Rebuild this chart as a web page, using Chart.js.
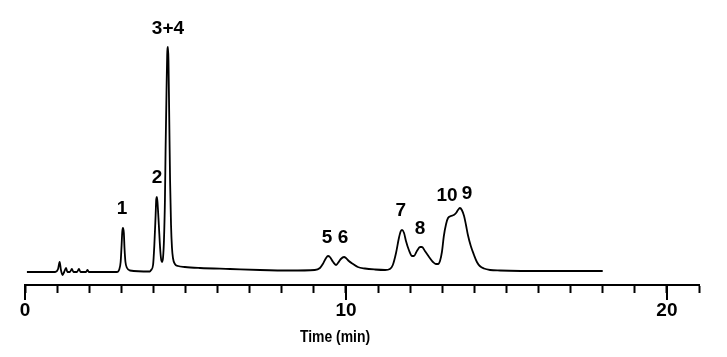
<!DOCTYPE html>
<html><head><meta charset="utf-8">
<script src="https://cdn.jsdelivr.net/npm/chart.js@4/dist/chart.umd.min.js"></script>
<style>html,body{margin:0;padding:0;background:#fff;}#wrap{width:727px;height:357px;}</style>
</head><body><div id="wrap"><canvas id="c" width="727" height="357"></canvas></div>
<script>
// Retention time (min) and detector signal (arbitrary units)
const timeMin = [0.06,0.94,1.03,1.08,1.12,1.17,1.22,1.28,1.32,1.40,1.46,1.51,1.62,1.68,1.73,1.90,1.95,1.99,2.34,
  2.87,2.93,2.98,3.01,3.03,3.05,3.08,3.10,3.13,3.18,3.27,
  3.89,3.93,3.99,4.03,4.07,4.09,4.11,4.13,4.17,4.21,4.24,4.27,4.30,4.33,4.36,4.38,4.41,4.43,4.455,4.47,4.495,4.52,4.55,4.58,4.61,4.67,4.77,4.98,
  5.45,6.39,7.32,8.26,9.03,9.19,9.28,9.38,9.44,9.50,9.60,9.69,9.75,9.84,9.94,10.00,10.09,10.22,10.37,10.59,10.90,
  11.22,11.37,11.46,11.56,11.65,11.71,11.75,11.81,11.87,11.96,12.06,12.12,12.21,12.31,12.37,12.46,12.59,12.71,12.80,12.87,
  12.93,12.99,13.05,13.12,13.18,13.27,13.36,13.43,13.49,13.55,13.61,13.68,13.74,13.80,13.89,13.99,14.08,14.17,14.30,14.49,14.80,16.36,18.0];
const signal = [0,0,3,10,2,-3,0,4,0,0,3,0,0,3,0,0,2,0,0,
  0,2,10,27,40,44,39,24,10,4,1.5,
  0.5,2,7,27,57,73,75,69,47,24,13,10,14,32,72,122,182,217,225,212,152,92,47,24,14,8,6,5,
  4,3,2,1.5,2,4,8,14,16,15,10,7,9,13,15,14,11,8,5,3.5,2.5,
  2,3,7,19,34,41,42,39,31,22,16,16,21,25,25,21,15,10,8,8,
  11,20,36,48,54,56,57,59,62,64,62,56,47,37,26,17,10,6,3.5,2,1.5,1,1];

// Peak annotations: label text, retention time and signal level of the label centre
const peakLabels = ['1','2','3+4','5','6','7','8','10','9'];
const peakLabelTime = [3.02,4.11,4.455,9.41,9.91,11.71,12.31,13.15,13.77];
const peakLabelSignal = [63,94,243,34.5,34.5,61,43,76,78.5];

// Axis
const xMajorTicks = [0,10,20];
const xMin = 0, xMax = 21;
const axisTitle = 'Time (min)';
const axisTitleCentreTime = 9.66;

const decor = {
  id: 'decor',
  afterDraw(chart) {
    const {ctx, scales: {x, y}} = chart;
    ctx.save();
    ctx.strokeStyle = '#000';
    ctx.lineWidth = 2;
    xMajorTicks.forEach(v => {
      const px = Math.round(x.getPixelForValue(v));
      ctx.beginPath();
      ctx.moveTo(px, x.top);
      ctx.lineTo(px, x.top + 15);
      ctx.stroke();
    });
    ctx.fillStyle = '#000';
    ctx.textAlign = 'center';
    ctx.textBaseline = 'middle';
    ctx.font = 'bold 19px "Liberation Sans", Arial, sans-serif';
    peakLabels.forEach((s, i) => {
      ctx.fillText(s, x.getPixelForValue(peakLabelTime[i]), y.getPixelForValue(peakLabelSignal[i]));
    });
    ctx.font = 'bold 17px "Liberation Sans", Arial, sans-serif';
    ctx.translate(x.getPixelForValue(axisTitleCentreTime), 337);
    ctx.scale(0.82, 1);
    ctx.fillText(axisTitle, 0, 0);
    ctx.restore();
  }
};

new Chart(document.getElementById('c'), {
  type: 'line',
  data: {
    datasets: [{
      data: timeMin.map((t, i) => ({x: t, y: signal[i]})),
      borderColor: '#000',
      borderWidth: 1.8,
      pointRadius: 0,
      cubicInterpolationMode: 'monotone',
      fill: false
    }]
  },
  options: {
    responsive: false,
    animation: false,
    events: [],
    layout: {padding: {left: 25, right: 28, top: 20, bottom: 32}},
    plugins: {legend: {display: false}, tooltip: {enabled: false}},
    scales: {
      x: {
        type: 'linear',
        min: xMin, max: xMax,
        afterFit: s => { s.height = 40; },
        border: {display: true, color: '#000', width: 2},
        grid: {display: true, drawOnChartArea: false, drawTicks: true, tickLength: 8, tickWidth: 2, tickColor: '#000'},
        ticks: {
          stepSize: 1, autoSkip: false, maxRotation: 0, padding: 6,
          color: '#000',
          font: {family: '"Liberation Sans", Arial, sans-serif', size: 19, weight: 'bold'},
          callback: v => xMajorTicks.includes(v) ? String(v) : ''
        }
      },
      y: {display: false, min: -13, max: 252}
    }
  },
  plugins: [decor]
});
</script>
</body></html>
